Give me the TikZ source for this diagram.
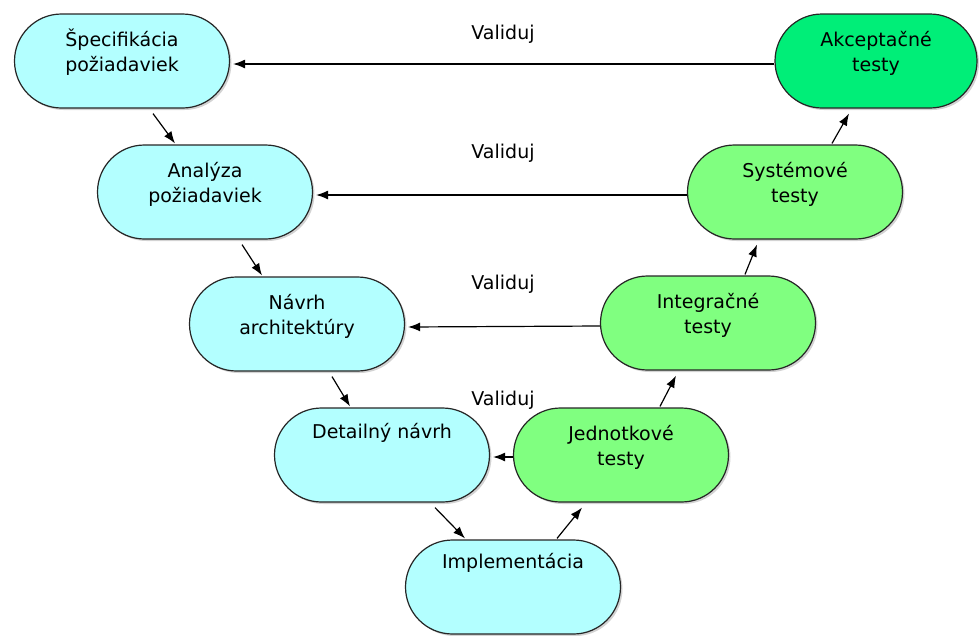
\documentclass[tikz,border=0pt]{standalone}
\usepackage{fontspec}
\setmainfont{DejaVu Sans}
\usetikzlibrary{arrows.meta,shadows}

\definecolor{reqcyan}{RGB}{179,255,255}
\definecolor{testgreen}{RGB}{128,255,128}
\definecolor{acceptgreen}{RGB}{0,238,120}

\begin{document}
\begin{tikzpicture}[x=1pt,y=-1pt,
  stage/.style={draw=black!85,line width=1.2pt,rounded corners=47pt,
    minimum width=215pt,minimum height=94pt,
    drop shadow={shadow xshift=2pt,shadow yshift=-2pt,opacity=0.35}},
  stagetext/.style={align=center,font=\fontsize{19}{25.5}\selectfont},
  flow/.style={-{Latex[length=12pt,width=9pt]},line width=1.2pt}]
  \useasboundingbox (0,0) rectangle (979,635);

  % left branch
  \node[stage,fill=reqcyan] (spec) at (122,61) {};
  \node[stage,fill=reqcyan] (ana) at (205,192) {};
  \node[stage,fill=reqcyan] (arch) at (297,324) {};
  \node[stage,fill=reqcyan] (det) at (382,455) {};
  \node[stage,fill=reqcyan] (impl) at (513,587) {};
  % right branch
  \node[stage,fill=testgreen] (unit) at (621,455) {};
  \node[stage,fill=testgreen] (integ) at (708,323) {};
  \node[stage,fill=testgreen] (sys) at (795,192) {};
  \node[stage,fill=acceptgreen,minimum width=202pt] (acc) at (876,61) {};

  \node[stagetext] (spec-t) at ([yshift=7pt]spec.center) {Špecifikácia\strut\\požiadaviek\strut};
  \node[stagetext] (ana-t) at ([yshift=7pt]ana.center) {Analýza\strut\\požiadaviek\strut};
  \node[stagetext] (arch-t) at ([yshift=7pt]arch.center) {Návrh\strut\\architektúry\strut};
  \node[stagetext] (det-t) at ([yshift=9pt]det.center) {Detailný návrh\strut\\\strut};
  \node[stagetext] (impl-t) at ([yshift=11pt]impl.center) {Implementácia\strut\\\strut};
  \node[stagetext] (unit-t) at ([yshift=7pt]unit.center) {Jednotkové\strut\\testy\strut};
  \node[stagetext] (integ-t) at ([yshift=7pt]integ.center) {Integračné\strut\\testy\strut};
  \node[stagetext] (sys-t) at ([yshift=7pt]sys.center) {Systémové\strut\\testy\strut};
  \node[stagetext] (acc-t) at ([yshift=7pt]acc.center) {Akceptačné\strut\\testy\strut};

  \node[stagetext] (val1) at (503,34) {Validuj};
  \node[stagetext] (val2) at (503,153) {Validuj};
  \node[stagetext] (val3) at (503,284) {Validuj};
  \node[stagetext] (val4) at (503,400) {Validuj};

  % down the V
  \draw[flow] ([shift={(31,5)}]spec.south) -- ([shift={(-30,-1)}]ana.north);
  \draw[flow] ([shift={(37,5)}]ana.south) -- ([shift={(-35,-1)}]arch.north);
  \draw[flow] ([shift={(35,5)}]arch.south) -- ([shift={(-32,-1)}]det.north);
  \draw[flow] ([shift={(53,5)}]det.south) -- ([shift={(-48,-1)}]impl.north);
  % up the V
  \draw[flow] ([shift={(44,-1)}]impl.north) -- ([shift={(-39,5)}]unit.south);
  \draw[flow] ([shift={(39,-1)}]unit.north) -- ([shift={(-32,5)}]integ.south);
  \draw[flow] ([shift={(37,-1)}]integ.north) -- ([shift={(-38,5)}]sys.south);
  \draw[flow] ([shift={(37,-1)}]sys.north) -- ([shift={(-27,5)}]acc.south);

  % validation
  \draw[flow] ([shift={(0,3)}]acc.west) -- ([shift={(3,3)}]spec.east);
  \draw[flow] ([shift={(0,3)}]sys.west) -- ([shift={(3,3)}]ana.east);
  \draw[flow] ([shift={(0,3)}]integ.west) -- ([shift={(3,3)}]arch.east);
  \draw[flow] ([shift={(0,2)}]unit.west) -- ([shift={(3,2)}]det.east);
\end{tikzpicture}
\end{document}
